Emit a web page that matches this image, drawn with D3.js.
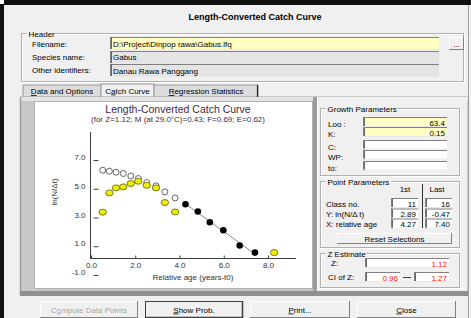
<!DOCTYPE html>
<html><head><meta charset="utf-8">
<script src="https://cdn.jsdelivr.net/npm/d3@7"></script>
<style>
body{margin:0;background:#fff}
svg{display:block;font-family:"Liberation Sans",Arial,sans-serif}
</style>
</head><body>
<svg id="c" width="471" height="318"></svg>
<script>
// ---------- data ----------
const xTickValues = [0, 2, 4, 6, 8];
const xTickLabels = ["0.0", "2.0", "4.0", "6.0", "8.0"];
const yTickValues = [7, 5, 3, 1, -1];
const yTickLabels = ["7.0", "5.0", "3.0", "1.0", "-1.0"];
// relative age of the small (non-regression) classes
const ageSmall = [0.53, 0.83, 1.13, 1.46, 1.80, 2.14, 2.52, 2.94, 3.34, 3.80];
// observed ln(N/dt) (yellow points)
const lnObserved = [3.37, 4.71, 5.06, 5.13, 5.36, 5.52, 5.24, 5.06, 4.04, 3.39];
// probability-corrected ln(N/dt) (open points)
const lnCorrected = [6.29, 6.22, 6.15, 6.06, 5.89, 5.71, 5.43, 5.20, 4.78, 4.36];
// points used in the regression (black)
const ageRegression = [4.27, 4.83, 5.37, 5.98, 6.72, 7.41];
const lnRegression = [3.92, 3.42, 2.67, 2.11, 1.05, 0.56];
// excluded large class (yellow)
const ageExcluded = [8.28];
const lnExcluded = [0.56];

const svg = d3.select("#c");

function rect(x, y, w, h, fill, stroke, sw) {
  return svg.append("rect").attr("x", x).attr("y", y).attr("width", w).attr("height", h)
    .attr("fill", fill || "none").attr("stroke", stroke || "none").attr("stroke-width", sw || 1);
}
function line(x1, y1, x2, y2, color, w) {
  return svg.append("line").attr("x1", x1).attr("y1", y1).attr("x2", x2).attr("y2", y2)
    .attr("stroke", color).attr("stroke-width", w || 1);
}
function text(x, y, parts, o) {
  o = o || {};
  const t = svg.append("text").attr("x", x).attr("y", y)
    .attr("font-size", o.size || 8).attr("fill", o.color || "#000")
    .attr("text-anchor", o.anchor || "start")
    .attr("font-weight", o.weight || "normal");
  if (typeof parts === "string") parts = [{ t: parts }];
  parts.forEach(p => {
    const s = t.append("tspan").text(p.t);
    if (p.u) s.attr("text-decoration", "underline");
  });
  return t;
}
function sunken(x, y, w, h, fill) {
  rect(x, y, w, h, fill);
  line(x, y + 0.5, x + w, y + 0.5, "#808080", 1);
  line(x + 0.5, y, x + 0.5, y + h, "#808080", 1);
  line(x + 1.5, y + 1, x + 1.5, y + h, "#404040", 0.8);
  line(x, y + h - 0.5, x + w, y + h - 0.5, "#e8e8e8", 1);
}
function button(x, y, w, h, parts, o) {
  o = o || {};
  rect(x, y, w, h, "#f0f0f0");
  line(x, y + 0.5, x + w, y + 0.5, "#ffffff", 1);
  line(x + 0.5, y, x + 0.5, y + h, "#ffffff", 1);
  line(x + w - 0.5, y, x + w - 0.5, y + h, o.dark ? "#303030" : "#808080", o.dark ? 1.5 : 1);
  line(x, y + h - 0.5, x + w, y + h - 0.5, o.dark ? "#303030" : "#808080", o.dark ? 1.5 : 1);
  if (o.dark) rect(x + 0.5, y + 0.5, w - 1, h - 1, "none", "#404040", 1);
  text(x + w / 2, y + h / 2 + 3, parts, { anchor: "middle", color: o.color || "#000" });
}
function group(x, y, w, h, label, lw) {
  rect(x + 1, y + 1, w, h, "none", "#ffffff", 1);
  rect(x, y, w, h, "none", "#b0b0b0", 1);
  rect(x + 5, y - 4, lw, 8, "#f0f0f0");
  text(x + 7, y + 3, label);
}

// ---------- window ----------
rect(0, 0, 471, 318, "#f0f0f0");
rect(0, 0, 471, 5, "#111");
rect(0, 0, 4, 318, "#111");
rect(0, 0, 4, 4, "#fff");
line(468.5, 5, 468.5, 318, "#a0a0a0", 1);
text(255, 20, "Length-Converted Catch Curve", { size: 9, weight: "bold", anchor: "middle" });

// ---------- header ----------
group(21.5, 33.5, 442, 48, "Header", 28);
text(32, 46.5, "Filename:");
text(32, 59.5, "Species name:");
text(32, 73, "Other identifiers:");
sunken(110, 37, 329, 13, "#ffffc4");
text(113, 46.5, "D:\\Project\\Dinpop rawa\\Gabus.lfq");
sunken(110, 51, 329, 13, "#e4e4e4");
text(113, 60, "Gabus");
sunken(110, 64, 329, 13, "#e4e4e4");
text(113, 73.5, "Danau Rawa Panggang");
button(449, 37, 15, 13, "...");

// ---------- tabs ----------
rect(20, 96, 448, 200, "#c8c8c8");
rect(23, 85, 78, 12, "#dcdcdc", "#9a9a9a", 1);
rect(101, 84, 53, 13, "#f0f0f0", "#9a9a9a", 1);
rect(154, 85, 104, 12, "#dcdcdc", "#9a9a9a", 1);
line(257.5, 85, 257.5, 97, "#202020", 1.2);
text(62, 94, [{ t: "D", u: true }, { t: "ata and Options" }], { anchor: "middle" });
text(127.5, 93.5, [{ t: "C" }, { t: "a", u: true }, { t: "tch Curve" }], { anchor: "middle" });
text(206, 94, [{ t: "R", u: true }, { t: "egression Statistics" }], { anchor: "middle" });
rect(20, 97, 448, 4, "#e4e4e4");
line(20.5, 97, 20.5, 296, "#a0a0a0", 1.5);
rect(20, 291, 448, 5, "#909090");

// ---------- chart panel ----------
rect(34.5, 101.5, 278, 187, "#ffffff", "#b0b0b0", 1);
rect(313, 97, 4, 194, "#9c9c9c");

const x = d3.scaleLinear().domain([0, 8]).range([91, 268]);
const y = d3.scaleLinear().domain([-1, 7]).range([275, 160]);

const titleColor = "#4a1f3f";
text(178, 113, "Length-Converted Catch Curve", { size: 10.5, anchor: "middle", color: titleColor });
text(178, 122, "(for Z=1.12; M (at 29.0\u00B0C)=0.43; F=0.69; E=0.62)", { size: 8, anchor: "middle", color: titleColor });

// axes lines
line(90.5, 132, 90.5, 258.5, "#404040", 1);
line(90, 258.5, 296, 258.5, "#404040", 1);

const gx = svg.append("g").attr("transform", "translate(0,258.5)")
  .call(d3.axisBottom(x).tickValues(xTickValues).tickSize(-3).tickPadding(3.5)
    .tickFormat((d, i) => xTickLabels[i]));
gx.select(".domain").remove();
gx.selectAll("line").attr("stroke", "#404040");
gx.selectAll("text").attr("font-size", 8).attr("fill", "#303030").attr("font-family", "Liberation Sans, Arial, sans-serif");

const gy = svg.append("g").attr("transform", "translate(98.5,0)")
  .call(d3.axisLeft(y).tickValues(yTickValues).tickSize(5).tickPadding(8)
    .tickFormat((d, i) => yTickLabels[i]));
gy.select(".domain").remove();
gy.selectAll("line").attr("stroke", "#404040");
gy.selectAll("text").attr("font-size", 8).attr("fill", "#303030").attr("y", -3)
  .attr("font-family", "Liberation Sans, Arial, sans-serif");

svg.append("text").attr("transform", "translate(57,192) rotate(-90)")
  .attr("text-anchor", "middle").attr("font-size", 8).attr("fill", "#303030").text("ln(N/\u0394t)");
text(193, 280, "Relative age (years-t0)", { anchor: "middle", color: "#303030" });

// regression line (least squares on black points)
const mx = d3.mean(ageRegression), my = d3.mean(lnRegression);
const slope = d3.sum(ageRegression, (a, i) => (a - mx) * (lnRegression[i] - my)) /
  d3.sum(ageRegression, a => (a - mx) * (a - mx));
const icpt = my - slope * mx;
const x0 = ageRegression[0], x1 = ageRegression[ageRegression.length - 1];
svg.append("line").attr("x1", x(x0)).attr("y1", y(icpt + slope * x0))
  .attr("x2", x(x1)).attr("y2", y(icpt + slope * x1))
  .attr("stroke", "#8a8a8a").attr("stroke-width", 1);

// open (corrected) points
svg.append("g").selectAll("circle").data(ageSmall).join("circle")
  .attr("cx", d => x(d)).attr("cy", (d, i) => y(lnCorrected[i])).attr("r", 3)
  .attr("fill", "#fff").attr("stroke", "#555").attr("stroke-width", 0.9);
// observed points (yellow)
svg.append("g").selectAll("ellipse").data(ageSmall).join("ellipse")
  .attr("cx", d => x(d)).attr("cy", (d, i) => y(lnObserved[i])).attr("rx", 3.7).attr("ry", 3)
  .attr("fill", "#eeee00").attr("stroke", "#6e6e10").attr("stroke-width", 0.9);
// regression points (black)
svg.append("g").selectAll("circle").data(ageRegression).join("circle")
  .attr("cx", d => x(d)).attr("cy", (d, i) => y(lnRegression[i])).attr("r", 3.3)
  .attr("fill", "#000");
// excluded point
svg.append("g").selectAll("ellipse").data(ageExcluded).join("ellipse")
  .attr("cx", d => x(d)).attr("cy", (d, i) => y(lnExcluded[i])).attr("rx", 3.7).attr("ry", 3)
  .attr("fill", "#eeee00").attr("stroke", "#6e6e10").attr("stroke-width", 0.9);

// ---------- right panel ----------
rect(317, 97, 150, 194, "#f0f0f0");
line(317.5, 97, 317.5, 291, "#ffffff", 1);

group(320.5, 108.5, 139, 67, "Growth Parameters", 72);
text(328, 126.5, "Loo :");
text(328, 136.5, "K:");
text(328, 149.5, "C:");
text(328, 159.5, "WP:");
text(328, 171, "to:");
sunken(363, 117, 84, 10, "#ffffc4");
text(445, 125.5, "63.4", { anchor: "end" });
sunken(363, 127, 84, 10, "#ffffc4");
text(445, 135.5, "0.15", { anchor: "end" });
sunken(363, 140, 84, 9.5, "#ffffff");
sunken(363, 150, 84, 9.5, "#ffffff");
sunken(363, 161, 84, 9.5, "#ffffff");

group(320.5, 181.5, 139, 66, "Point Parameters", 66);
text(405, 192, "1st", { anchor: "middle" });
text(437, 192, "Last", { anchor: "middle" });
line(422.5, 184, 422.5, 228, "#303030", 1);
text(326, 206.5, "Class no.");
text(326, 217, "Y: ln(N/\u0394 t)");
text(326, 227, "X: relative age");
const rowsY = [198, 208.5, 218.5];
const firstVals = ["11", "2.89", "4.27"];
const lastVals = ["16", "-0.47", "7.40"];
rowsY.forEach((ry, i) => {
  sunken(391, ry, 27, 10, "#ffffff");
  text(416, ry + 8.5, firstVals[i], { anchor: "end" });
  sunken(425, ry, 27, 10, "#ffffff");
  text(450, ry + 8.5, lastVals[i], { anchor: "end" });
});
button(337, 233, 115, 11, "Reset Selections");

group(320.5, 253.5, 139, 34, "Z Estimate", 40);
text(331, 266, "Z:");
sunken(365, 258, 84, 10, "#ffffff");
text(447, 266.5, "1.12", { anchor: "end", color: "#ff1010" });
text(328, 280, "CI of Z:");
sunken(365, 272, 35, 10, "#ffffff");
text(398, 280.5, "0.96", { anchor: "end", color: "#ff1010" });
line(403, 277.5, 411, 277.5, "#404040", 1);
sunken(414, 272, 35, 10, "#ffffff");
text(447, 280.5, "1.27", { anchor: "end", color: "#ff1010" });

// ---------- bottom buttons ----------
button(40, 301, 98, 17, [{ t: "C" }, { t: "o", u: true }, { t: "mpute Data Points" }], { color: "#a8a8a8" });
button(145, 301, 98, 17, [{ t: "S", u: true }, { t: "how Prob." }], { dark: true });
button(250, 301, 100, 17, [{ t: "P", u: true }, { t: "rint..." }]);
button(357, 301, 99, 17, [{ t: "C", u: true }, { t: "lose" }]);
</script>
</body></html>
